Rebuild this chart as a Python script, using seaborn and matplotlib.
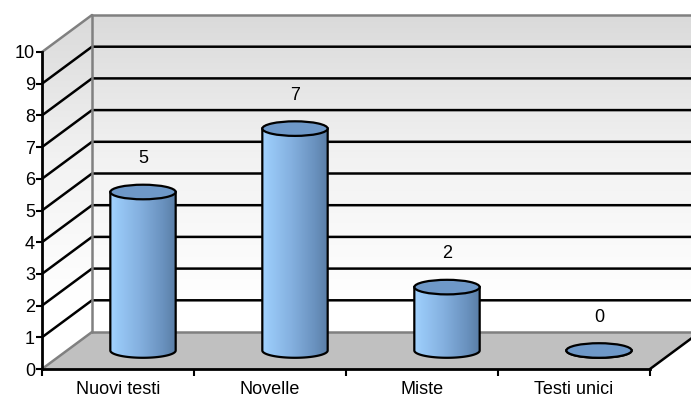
import numpy as np
import matplotlib
matplotlib.use("Agg")
import matplotlib.pyplot as plt
import seaborn as sns
from matplotlib.patches import Polygon, Ellipse
from matplotlib.colors import LinearSegmentedColormap
from matplotlib.transforms import ScaledTranslation

# Data
categories = ["Nuovi testi", "Novelle", "Miste", "Testi unici"]
values = [5, 7, 2, 0]
y_ticks = list(range(0, 11))

sns.set_style("white")
plt.rcParams["font.family"] = ["Liberation Sans", "DejaVu Sans"]

W, H, DPI = 691, 401, 100
fig = plt.figure(figsize=(W / DPI, H / DPI), dpi=DPI)

# background layer in pixel coordinates for walls and floor
ax_bg = fig.add_axes([0, 0, 1, 1], zorder=0)
ax_bg.set_xlim(0, W)
ax_bg.set_ylim(0, H)
ax_bg.axis("off")

# front plane of the chart
ax = fig.add_axes([42 / W, 32 / H, 608 / W, 317 / H], zorder=1)
ax.patch.set_visible(False)
ax.set_xlim(-0.5, len(categories) - 0.5)
ax.set_ylim(0, 10)

DX, DY = 50, 37  # depth offset of the back wall, in pixels
X0, X1 = -0.5, len(categories) - 0.5
VMAX = 10


def proj(x, v, d):
    px, py = ax.transData.transform((x, v))
    return (px + d * DX, py + d * DY)


# walls with a vertical gray gradient
wall_pts = [proj(X0, 0, 0), proj(X0, VMAX, 0), proj(X0, VMAX, 1),
            proj(X1, VMAX, 1), proj(X1, 0, 1), proj(X0, 0, 1)]
wall = Polygon(wall_pts, closed=True, facecolor="none", edgecolor="none")
ax_bg.add_patch(wall)
ys = np.linspace(0, H, 400)
ytop = proj(X0, VMAX, 1)[1]
t = np.clip((ys - 100) / (ytop - 100), 0, 1)[:, None]
wall_cmap = LinearSegmentedColormap.from_list("wall", ["#ffffff", "#f2f2f2", "#dadada"])
img = ax_bg.imshow(t, extent=(0, W, 0, H), origin="lower", aspect="auto",
                   cmap=wall_cmap, vmin=0, vmax=1, zorder=0)
img.set_clip_path(wall)

# floor
floor_pts = [proj(X0, 0, 0), proj(X1, 0, 0), proj(X1, 0, 1), proj(X0, 0, 1)]
ax_bg.add_patch(Polygon(floor_pts, closed=True, facecolor="#c0c0c0",
                        edgecolor="none", zorder=1))

# gridlines: diagonal on the side wall, horizontal on the back wall
for v in y_ticks[1:-1]:
    a, b, c = proj(X0, v, 0), proj(X0, v, 1), proj(X1, v, 1)
    ax_bg.plot([a[0], b[0], c[0]], [a[1], b[1], c[1]], color="black",
               lw=1.8, solid_capstyle="butt", zorder=2)

# wall borders
g = "#808080"
for p, q in [((X0, VMAX, 0), (X0, VMAX, 1)), ((X0, VMAX, 1), (X1, VMAX, 1)),
             ((X0, VMAX, 1), (X0, 0, 1)), ((X0, 0, 1), (X1, 0, 1)),
             ((X0, 0, 0), (X0, 0, 1))]:
    a, b = proj(*p), proj(*q)
    ax_bg.plot([a[0], b[0]], [a[1], b[1]], color=g, lw=1.8, zorder=3)
a, b = proj(X1, 0, 0), proj(X1, 0, 1)
ax_bg.plot([a[0], b[0]], [a[1], b[1]], color="black", lw=1.8, zorder=3)

# cylinders, placed at mid depth
mid = ax.transData + ScaledTranslation(DX / 2 / DPI, DY / 2 / DPI, fig.dpi_scale_trans)
sns.barplot(x=categories, y=values, width=0.43, ax=ax, color="#80acdc",
            saturation=1, errorbar=None)

cyl_cmap = LinearSegmentedColormap.from_list(
    "cyl", [(0, "#a3d3ff"), (0.12, "#98c8f6"), (0.45, "#84b0df"),
            (0.8, "#6a92bf"), (1.0, "#5a7ea6")])
ell_h = 0.46  # ellipse height in value units
grad = np.linspace(0, 1, 200)[None, :]

for rect, v in zip(ax.patches, values):
    x0 = rect.get_x()
    w = rect.get_width()
    top = rect.get_height()
    rect.set_visible(False)
    cx = x0 + w / 2
    th = np.linspace(np.pi, 2 * np.pi, 60)
    arc = [(cx + w / 2 * np.cos(a_), ell_h / 2 * np.sin(a_)) for a_ in th]
    body_pts = [(x0, top)] + arc + [(x0 + w, top)]
    body = Polygon(body_pts, closed=True, facecolor="none", edgecolor="black",
                   lw=1.6, transform=mid, clip_on=False, zorder=4)
    ax.add_patch(body)
    im = ax.imshow(grad, extent=(x0, x0 + w, -ell_h, top + 0.01), origin="lower",
                   aspect="auto", cmap=cyl_cmap, vmin=0, vmax=1,
                   transform=mid, zorder=3)
    im.set_clip_path(body)
    cap = Ellipse((cx, top), w, ell_h, facecolor="#6e98c8", edgecolor="black",
                  lw=1.6, transform=mid, clip_on=False, zorder=5)
    ax.add_patch(cap)
    ax.text(cx, top + 1.05, f"{v}", transform=mid, ha="center", va="center",
            fontsize=13, color="black", zorder=6)

ax.set_xlim(X0, X1)
ax.set_ylim(0, VMAX)

# axes styling
for s in ["top", "right"]:
    ax.spines[s].set_visible(False)
for s in ["left", "bottom"]:
    ax.spines[s].set_color("black")
    ax.spines[s].set_linewidth(2)
ax.set_yticks(y_ticks)
ax.set_yticklabels([str(v) for v in y_ticks])
ax.set_xticks(range(len(categories)))
ax.set_xticklabels(categories)
ax.set_xticks(np.arange(X0, X1 + 0.01, 1.0), minor=True)
ax.tick_params(axis="y", which="major", direction="out", length=4, width=1.5,
               pad=1, labelsize=13, left=True, colors="black")
ax.tick_params(axis="x", which="major", length=0, pad=9, labelsize=13,
               colors="black")
ax.tick_params(axis="x", which="minor", direction="out", length=5, width=1.5,
               bottom=True, colors="black")
ax.set_xlabel("")
ax.set_ylabel("")
ax.grid(False)

fig.savefig("out.png", dpi=DPI)
